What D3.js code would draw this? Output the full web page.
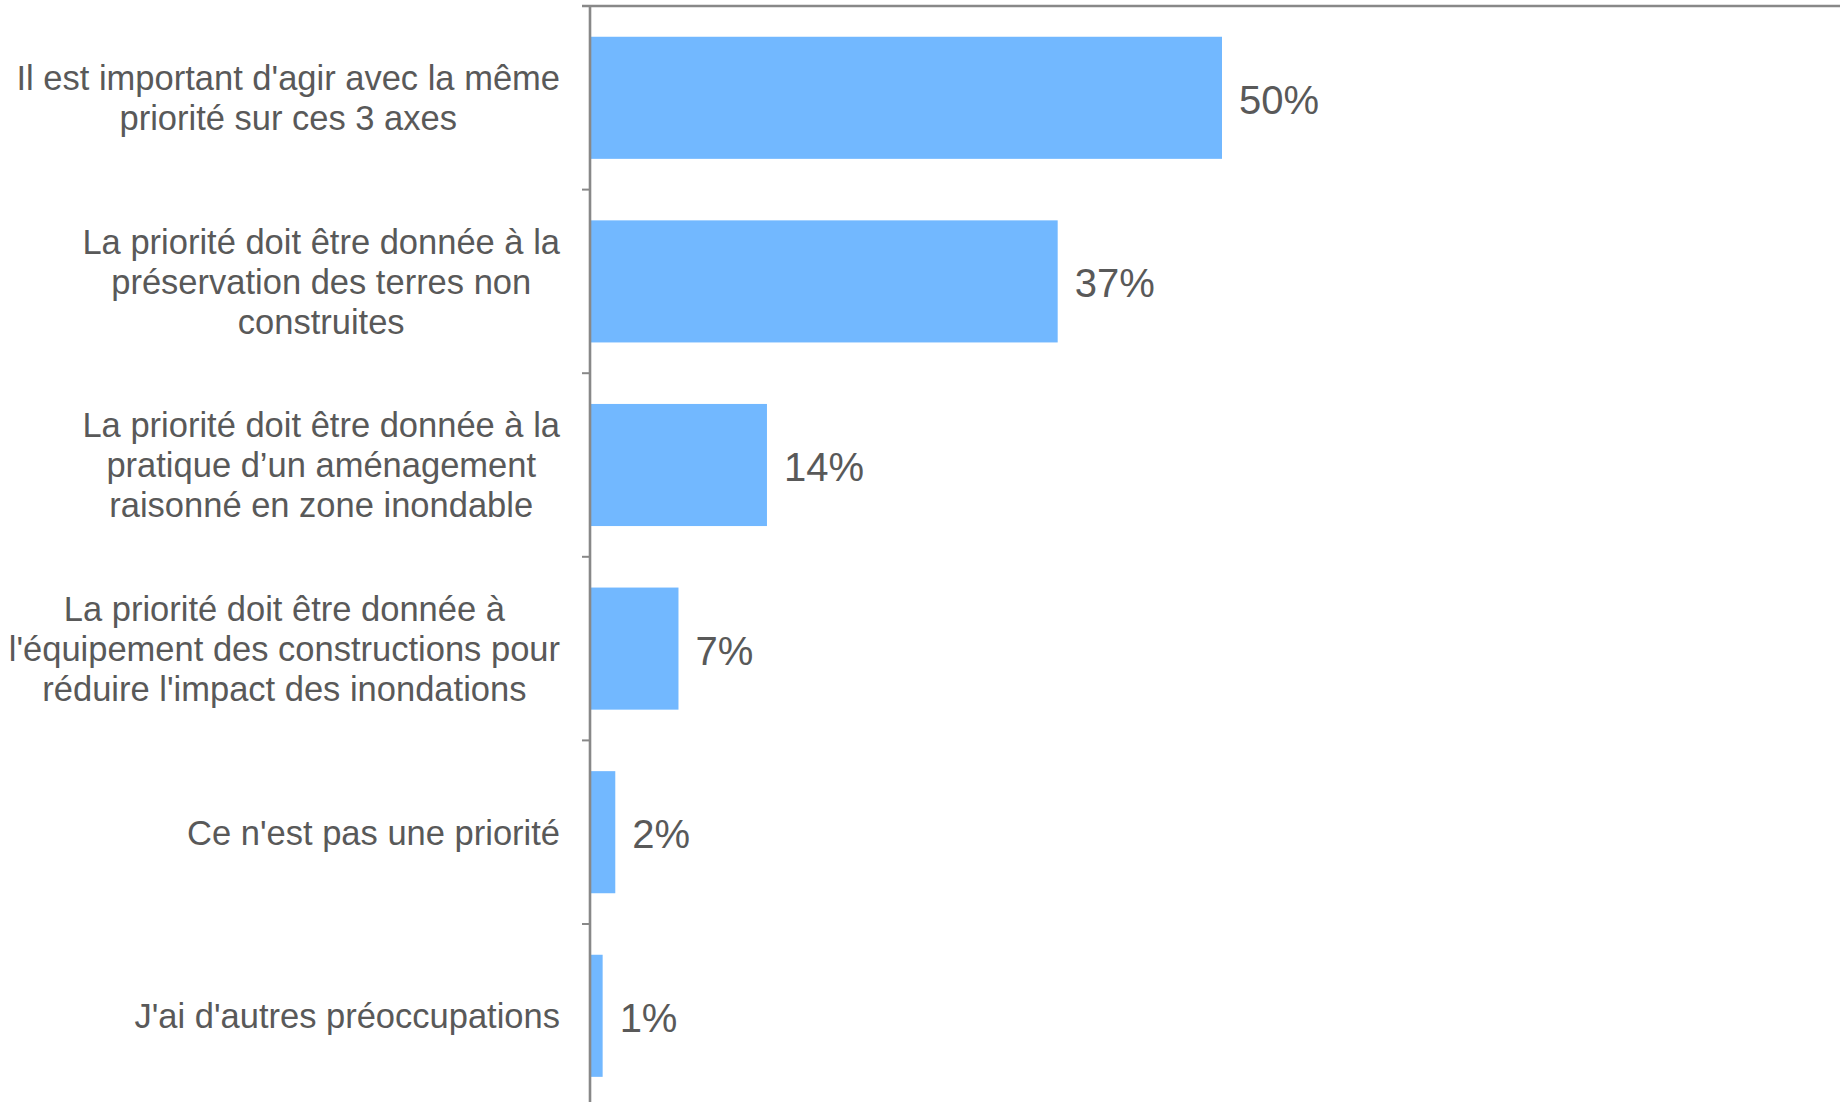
<!DOCTYPE html>
<html>
<head>
<meta charset="utf-8">
<script src="https://cdn.jsdelivr.net/npm/d3@7"></script>
<style>
  html, body { margin: 0; padding: 0; background: #fff; }
  svg { display: block; }
  text { font-family: "Liberation Sans", Arial, sans-serif; fill: #595959; }
</style>
</head>
<body>
<svg id="chart" width="1840" height="1102"></svg>
<script>
// Survey answers (one entry per bar, top to bottom), split into display lines
const categories = [
  ["Il est important d'agir avec la même", "priorité sur ces 3 axes"],
  ["La priorité doit être donnée à la", "préservation des terres non", "construites"],
  ["La priorité doit être donnée à la", "pratique d’un aménagement", "raisonné en zone inondable"],
  ["La priorité doit être donnée à", "l'équipement des constructions pour", "réduire l'impact des inondations"],
  ["Ce n'est pas une priorité"],
  ["J'ai d'autres préoccupations"]
];
const values = [50, 37, 14, 7, 2, 1];
const valueLabels = ["50%", "37%", "14%", "7%", "2%", "1%"];

const W = 1840, H = 1102;
const axisX = 590, topY = 6;
const svg = d3.select("#chart");

const keys = categories.map((c, i) => i);
const y = d3.scaleBand()
  .domain(keys)
  .range([topY, topY + 6 * 183.6])
  .paddingInner(0.335)
  .paddingOuter(0.1675);

const x = d3.scaleLinear().domain([0, 100]).range([axisX, 1854]);

// bars
svg.append("g").selectAll("rect")
  .data(values)
  .join("rect")
  .attr("x", x(0))
  .attr("y", (d, i) => y(i))
  .attr("width", d => x(d) - x(0))
  .attr("height", y.bandwidth())
  .attr("fill", "#72b8ff");

// value labels
svg.append("g").selectAll("text")
  .data(values)
  .join("text")
  .attr("x", d => x(d) + 17)
  .attr("y", (d, i) => y(i) + y.bandwidth() / 2)
  .attr("dy", "0.4em")
  .style("font-size", "40px")
  .text((d, i) => valueLabels[i]);

// top frame line
svg.append("line")
  .attr("x1", axisX - 8).attr("x2", W)
  .attr("y1", topY).attr("y2", topY)
  .attr("stroke", "#888").attr("stroke-width", 2.6);

// category axis with ticks at band boundaries
const axisG = svg.append("g");
axisG.append("line")
  .attr("x1", axisX).attr("x2", axisX)
  .attr("y1", topY).attr("y2", H)
  .attr("stroke", "#888").attr("stroke-width", 2.6);
const step = y.step();
const bounds = d3.range(0, 7).map(k => topY + k * step);
axisG.selectAll("line.tick")
  .data(bounds)
  .join("line")
  .attr("class", "tick")
  .attr("x1", axisX - 8).attr("x2", axisX)
  .attr("y1", d => d).attr("y2", d => d)
  .attr("stroke", "#888").attr("stroke-width", 2);

// category labels: lines centered on each other, block right-aligned
const fs = 34.5, lh = 40, rightEdge = 560;
categories.forEach((lines, i) => {
  const g = svg.append("g");
  const cy = y(i) + y.bandwidth() / 2;
  const t = g.append("text").style("font-size", fs + "px").attr("text-anchor", "middle");
  const spans = t.selectAll("tspan").data(lines).join("tspan").text(d => d);
  let maxW = 0;
  spans.each(function () { maxW = Math.max(maxW, this.getComputedTextLength()); });
  const cx = rightEdge - maxW / 2;
  const n = lines.length;
  spans.attr("x", cx)
    .attr("y", (d, k) => cy + (k - (n - 1) / 2) * lh)
    .attr("dy", "0.36em");
});
</script>
</body>
</html>
